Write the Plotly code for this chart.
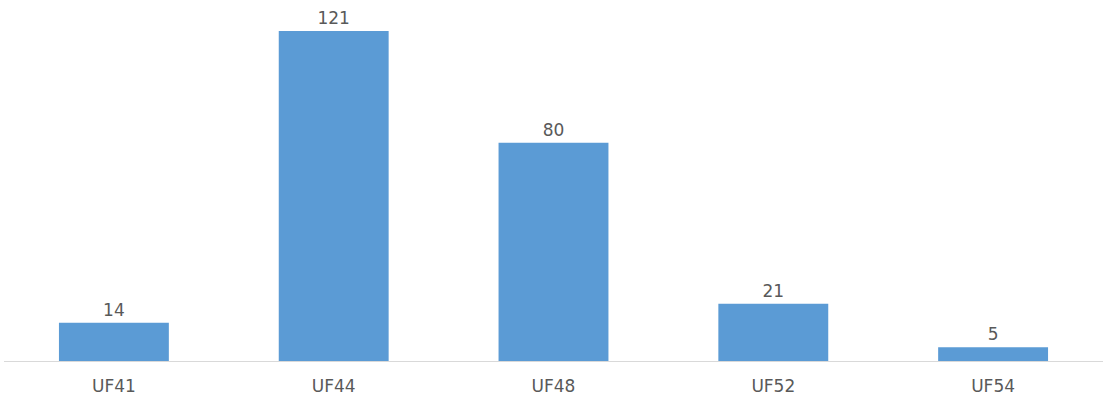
import plotly.graph_objects as go

categories = ["UF41", "UF44", "UF48", "UF52", "UF54"]
values = [14, 121, 80, 21, 5]

FONT = "DejaVu Sans, Open Sans, sans-serif"

fig = go.Figure(go.Bar(
    x=categories, y=values,
    marker=dict(color="#5B9BD5", line=dict(width=0)),
    text=[str(v) for v in values], textposition="outside",
    textfont=dict(family=FONT, size=17, color="#595959"),
    cliponaxis=False,
))
fig.update_layout(
    width=1108, height=398,
    margin=dict(l=4, r=5, t=10, b=37, autoexpand=False),
    paper_bgcolor="white", plot_bgcolor="white",
    bargap=0.5, showlegend=False,
    font=dict(family=FONT, size=17, color="#595959"),
)
fig.update_xaxes(showline=True, linecolor="#D9D9D9", linewidth=1, ticks="",
                 automargin=False,
                 ticklabelstandoff=10, tickfont=dict(size=17, color="#595959"))
fig.update_yaxes(range=[0, 128.7], visible=False, showgrid=False, zeroline=False,
                 automargin=False)
fig.write_html("out.html", config={"displayModeBar": False},
               post_script="document.body.style.margin='0';document.body.style.padding='0';")
